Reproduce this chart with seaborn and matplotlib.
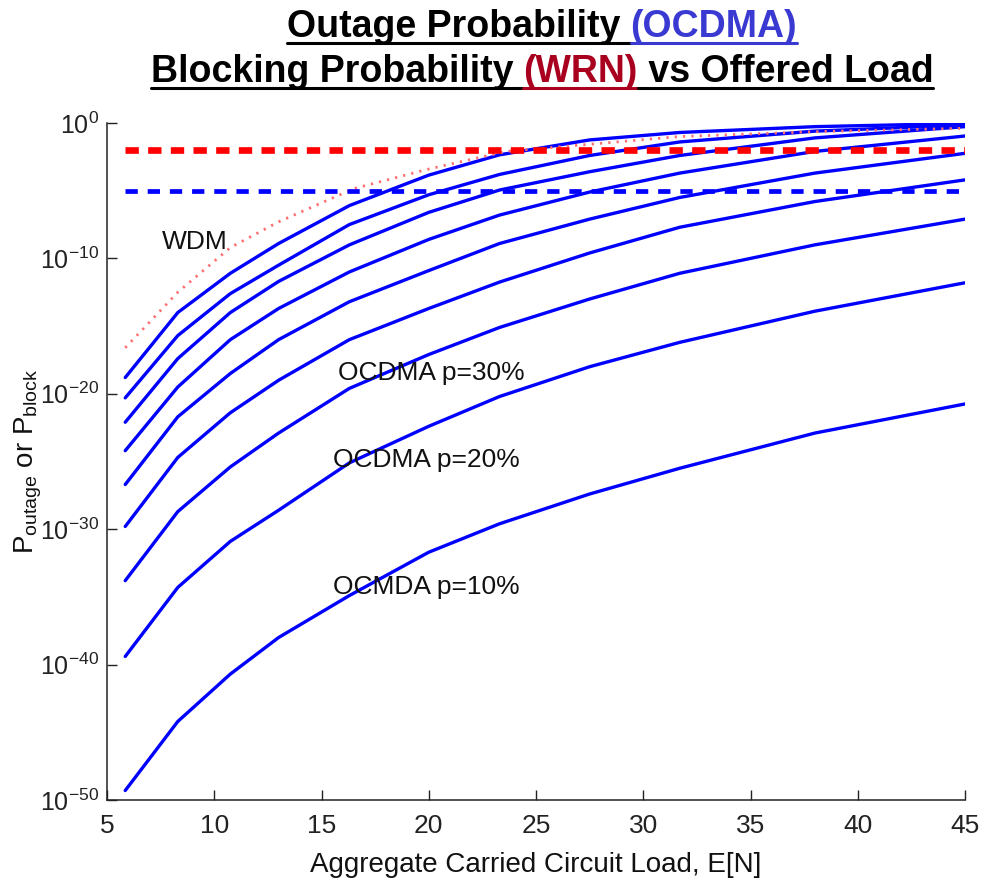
import numpy as np
import pandas as pd
import matplotlib
matplotlib.use("Agg")
import matplotlib.pyplot as plt
import matplotlib.transforms as mtransforms
from matplotlib.lines import Line2D
from matplotlib.ticker import NullLocator, LogFormatterMathtext
import seaborn as sns

# ---------------- data (log10 of probability) ----------------
load_x = [5.85, 8.3, 10.75, 13.0, 16.3, 20.0, 23.3, 27.5, 31.7, 38.0, 45.0]

ocdma_c1 = [-18.8, -14.0, -11.1, -8.9, -6.1, -3.85, -2.35, -1.25, -0.7, -0.27, -0.03]
ocdma_c2 = [-20.3, -15.7, -12.6, -10.5, -7.5, -5.3, -3.8, -2.4, -1.4, -0.6, -0.15]
ocdma_c3 = [-22.1, -17.4, -14.0, -11.7, -9.0, -6.6, -4.95, -3.6, -2.4, -1.1, -0.27]
ocdma_c4 = [-24.2, -19.5, -16.0, -13.7, -11.0, -8.6, -6.8, -5.1, -3.7, -2.1, -0.96]
ocdma_c5 = [-26.7, -21.7, -18.5, -16.0, -13.2, -10.9, -8.9, -7.1, -5.5, -3.7, -2.24]
ocdma_c6 = [-29.8, -24.7, -21.4, -19.0, -16.0, -13.7, -11.75, -9.6, -7.7, -5.8, -4.2]
ocdma_c7 = [-33.8, -28.7, -25.4, -22.9, -19.6, -17.1, -15.1, -13.0, -11.1, -9.0, -7.1]
ocdma_c8 = [-39.4, -34.3, -30.9, -28.6, -25.1, -22.4, -20.2, -18.0, -16.2, -13.9, -11.8]
ocdma_c9 = [-49.3, -44.2, -40.7, -38.0, -34.9, -31.7, -29.6, -27.4, -25.5, -22.9, -20.75]
ocdma_curves = [ocdma_c1, ocdma_c2, ocdma_c3, ocdma_c4, ocdma_c5,
                ocdma_c6, ocdma_c7, ocdma_c8, ocdma_c9]

wdm_x = [5.85, 8.3, 10.75, 13.0, 16.5, 20.0, 23.6, 31.7, 38.0, 45.0]
wdm_log = [-16.6, -12.5, -9.2, -7.3, -4.85, -3.4, -2.1, -1.0, -0.64, -0.39]

threshold_x = [5.85, 45.0]
wrn_threshold_log = -2.0
ocdma_threshold_log = -5.0

label_texts = ["WDM", "OCDMA p=30%", "OCDMA p=20%", "OCMDA p=10%"]
label_x = [7.55, 15.75, 15.55, 15.55]
label_log = [-8.8, -18.5, -24.9, -34.3]

x_ticks = [5, 10, 15, 20, 25, 30, 35, 40, 45]
y_tick_exps = [-50, -40, -30, -20, -10, 0]

# ---------------- style ----------------
sns.set_theme(style="white")
plt.rcParams["font.family"] = ["Liberation Sans", "DejaVu Sans"]
plt.rcParams["mathtext.fontset"] = "custom"
plt.rcParams["mathtext.rm"] = "Liberation Sans"
plt.rcParams["mathtext.it"] = "Liberation Sans:italic"
plt.rcParams["mathtext.bf"] = "Liberation Sans:bold"

fig = plt.figure(figsize=(9.84, 8.86), dpi=100)
ax = fig.add_axes([107 / 984, 1 - 800 / 886, 858 / 984, 677 / 886])
ax.set_yscale("log")

rows = []
for i, vals in enumerate(ocdma_curves):
    for x, v in zip(load_x, vals):
        rows.append({"curve": i, "load": x, "p": 10.0 ** v})
df = pd.DataFrame(rows)

sns.lineplot(data=df, x="load", y="p", units="curve", estimator=None,
             color="#0000ff", lw=2.4, ax=ax, legend=False, sort=True)

sns.lineplot(x=wdm_x, y=[10.0 ** v for v in wdm_log], color="#ff6e6e",
             lw=2.0, linestyle=(0, (0.8, 2.2)), ax=ax)

sns.lineplot(x=threshold_x, y=[10.0 ** ocdma_threshold_log] * 2, color="#0000ff",
             lw=3.4, linestyle=(0, (2.6, 2.1)), ax=ax)
sns.lineplot(x=threshold_x, y=[10.0 ** wrn_threshold_log] * 2, color="#ff0000",
             lw=4.8, linestyle=(0, (2.0, 1.4)), ax=ax)

for s, x, y in zip(label_texts, label_x, label_log):
    ax.text(x, 10.0 ** y, s, fontsize=19, ha="left", va="center", color="#111111")

ax.set_xlim(5, 45)
ax.set_ylim(1e-50, 1.0)
ax.set_xticks(x_ticks)
ax.set_yticks([10.0 ** e for e in y_tick_exps])
ax.yaxis.set_minor_locator(NullLocator())
ax.yaxis.set_major_formatter(LogFormatterMathtext())
ax.tick_params(axis="both", which="major", direction="in", length=7, width=1,
               left=True, bottom=True, colors="#222222")
ax.tick_params(axis="x", labelsize=19, pad=10)
ax.tick_params(axis="y", labelsize=18, pad=6)
for sp in ["top", "right"]:
    ax.spines[sp].set_visible(False)
for sp in ["left", "bottom"]:
    ax.spines[sp].set_color("#222222")
    ax.spines[sp].set_linewidth(1.1)

ax.set_xlabel("Aggregate Carried Circuit Load, E[N]", fontsize=20, labelpad=10,
              color="#111111")
ax.set_ylabel(r"$\mathregular{P_{outage}}$ or $\mathregular{P_{block}}$",
              fontsize=20, color="#111111")
ax.yaxis.set_label_coords(-0.074, 0.5)

# ---------------- title with coloured, underlined parts ----------------
renderer = fig.canvas.get_renderer()
ident = mtransforms.IdentityTransform()
TITLE_FS = 27


def text_width(s):
    t = fig.text(0, 0, s, fontsize=TITLE_FS, fontweight="bold", transform=ident)
    w = t.get_window_extent(renderer).width
    t.remove()
    return w


def title_line(pieces, base_px, center_px):
    full = "".join(s for s, _ in pieces)
    bar = text_width("|")
    total = text_width(full)
    x0 = center_px - total / 2
    prefix = ""
    for s, c in pieces:
        xs = x0 + (text_width(prefix + "|") - bar if prefix else 0.0)
        xe = x0 + text_width(prefix + s + "|") - bar
        fig.text(xs, base_px, s, color=c, fontsize=TITLE_FS, fontweight="bold",
                 transform=ident, ha="left", va="baseline")
        fig.add_artist(Line2D([xs, xe], [base_px - 6, base_px - 6], color=c,
                              lw=2.2, transform=ident))
        prefix += s


title_line([("Outage Probability ", "#000000"), ("(OCDMA)", "#3a3ad2")],
           886 - 37, 542)
title_line([("Blocking Probability ", "#000000"), ("(WRN)", "#a8001e"),
            (" vs Offered Load", "#000000")], 886 - 82, 542)

fig.savefig("out.png", dpi=100)
